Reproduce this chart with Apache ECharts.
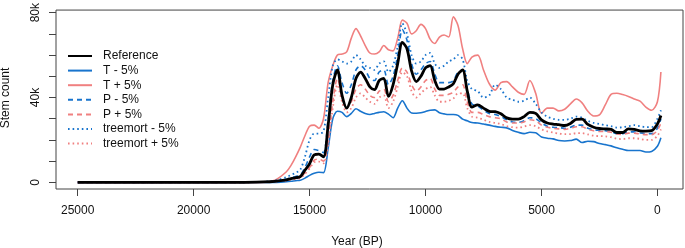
<!DOCTYPE html>
<html>
<head>
<meta charset="utf-8">
<script src="https://cdn.jsdelivr.net/npm/echarts@6/dist/echarts.min.js"></script>
<style>
  html,body{margin:0;padding:0;background:#fff;}
  #chart{width:685px;height:248px;}
</style>
</head>
<body>
<div id="chart"></div>
<script>
// years BP, values in thousands of stems
let years = [25000,22000,19000,18000,17000,16500,16000,
  15800,15600,15400,15200,15000,14800,14600,14400,14200,14000,13800,13600,13400,13200,13000,12800,12600,12400,12200,12000,
  11800,11600,11400,11200,11000,10800,10600,10400,10200,10000,9800,9600,9400,9200,9000,8800,8600,8400,8200,8000,
  7750,7500,7250,7000,6750,6500,6250,6000,5750,5500,5250,5000,4750,4500,4250,4000,3750,3500,3250,3000,
  2750,2500,2250,2000,1750,1500,1250,1000,750,500,250,0,-150];

let reference = [0,0,0,0,0.2,0.5,1.2,
  1.8,2.2,2.7,5.7,8.8,13,13.3,12,27,46,53,41,35,40,49,52,49,45,43.7,48,
  49,40.5,46,56,66,63,52.5,47.5,50,54,55,48,44,44,45,46.5,51,53,43,35.5,
  36.5,35,33.5,33.3,32.3,30.4,29.8,29.8,31,33,32.5,29.5,28,27.5,27.2,26.8,27.8,29.7,29.8,27.3,
  26,25.4,25.2,25,23.5,23.5,25.2,25,24.3,24.2,24.4,27.5,31.5];

let tMinus = [0,0,0,0,0,0,0.3,
  0.5,0.8,1,2,3.3,4.3,4.8,4.6,16,30,33.5,33,31,32.5,34.7,33.5,32.5,32,32.5,33,
  33.3,32.2,30.5,35,38.5,35,32.7,32.6,32.8,33.4,34,34.2,32.8,32.3,32,32,31.6,29.8,29,28.2,
  28,27.5,27,26.4,26,25.7,24.5,23.6,23,23.6,23.4,21.4,20.8,20.5,19.7,19.5,19.7,20.4,18.8,19.4,
  19.2,18.3,17.8,17.2,16.3,15.6,15,15,15,14.3,14.6,17,21];

let tPlus = [0,0,0,0,0,1,5,
  8,12,16.6,22,26.5,27,25.5,30,47,55,60,60.5,61.5,68,72.5,69,64.5,61,60.5,61.5,
  64.5,62.5,62,68,76.5,75,70,71.5,74.5,72.5,67.5,65.5,68.5,69.5,68.5,78,74,63,56,59,
  60,53,46.5,43.5,47,47.5,45,42.5,41.5,48,42,32.5,35,35,33.7,34.5,37,39.3,37.5,33.5,
  31.3,31.8,36.5,41.5,42,41.4,40.5,39.3,38.3,35.5,34,38,52];

let pMinus = [0,0,0,0,0.2,0.5,1.5,
  2.2,2.8,3.5,7,12,15.5,15,14,30,48,55,47,42,46,53,55,53,49,48,52,
  53,46,50,60,72,67,56,51,53,56,57,51,47,47,47,48,52,53,44,37,
  36,34,32.5,32,31,29.5,28.5,28.3,29,30.5,30,28,26.5,26,25.8,25.5,26,27,27,25.5,
  24.8,24.5,24.3,24,23,23,23.8,23.8,23.3,23,23,25.5,30];

let pPlus = [0,0,0,0,0.2,0.4,1,
  1.5,1.9,2.4,4.5,7,10.5,11,10,20,38,49,40,35,38,44,46,44,41,40,43,
  44,38,41,48,54,52,46,43,45,48,49,44,41,41,41.5,42.5,45,46,38,33,
  33,32,31,30.5,30,28.5,28,28,28.5,29.5,29,27,26,25.5,25.2,25,25.5,26.2,26.2,25,
  24.3,24,24,23.6,22.8,22.6,23.2,23.2,22.8,22.5,22.5,24.5,28];

let mortMinus = [0,0,0,0,0.3,0.8,2.5,
  3.5,4.5,6,12,20,23,23,24,40,55,58,57,56,57,60,58,55,54,53,56,
  57,52,55,64,75,70,60,56,57,60,61,56,54,55,57,58,60,58,48,44,
  43,40,41,46,44,40,39,38,38.5,40,37,33,31,30,29.5,29.5,30,31,30.5,29,
  28,27.5,27,26.5,25.8,26,26.5,27,26.5,26,26,30,34];

let mortPlus = [0,0,0,0,0.2,0.4,0.9,
  1.3,1.6,2,4,6.5,9.5,9.8,9,18,35,46,38,33,35,40,42,40,38,37,40,
  41,35,38,45,52,50,43,40,42,44,45,41,38,38,38.5,39.5,42,42,35,31,
  30.5,29.5,28.5,28,27.5,26.5,26,25.8,26.3,27,26.5,25,24,23.5,23,22.7,22.7,23.2,23.2,22.6,
  22,21.8,21.7,21.3,20.6,20.4,20.8,20.8,20.5,20,20,22,25];

let xTicks = [25000,20000,15000,10000,5000,0];
let yTicks = [0,10,20,30,40,50,60,70,80];
let yLabels = [0,40,80];

const BLUE = '#1874CD', RED = '#F08080';
const FONT = 'Liberation Sans, Arial, sans-serif';

function pairs(v){
  return years.map((y,i)=>[y,v[i]]);
}

function line(name,v,color,type,width){
  return {
    name:name,
    type:'line',
    data:pairs(v),
    symbol:'none',
    smooth:0.3,
    lineStyle:{color:color,width:width,type:type},
    itemStyle:{color:color},
    z: name=='Reference' ? 5 : 2
  };
}

let chart = echarts.init(document.getElementById('chart'));
chart.setOption({
  animation:false,
  textStyle:{fontFamily:FONT},
  grid:{left:56,right:2,top:7,bottom:59,show:true,borderColor:'#444',borderWidth:1},
  legend:{
    orient:'vertical',
    left:67,top:49,padding:0,
    itemWidth:24,itemHeight:10,itemGap:0.6,
    itemStyle:{opacity:0},
    textStyle:{fontFamily:FONT,fontSize:12,color:'#111',lineHeight:14,padding:[0,0,0,6]},
    data:['Reference','T - 5%','T + 5%','P - 5%','P + 5%','treemort - 5%','treemort + 5%']
  },
  xAxis:{
    type:'value',inverse:true,min:-1103,max:25935,
    splitLine:{show:false},
    axisLine:{show:false,onZero:false},
    axisTick:{show:true,inside:false,length:7,lineStyle:{color:'#444'},customValues:xTicks},
    axisLabel:{margin:16,fontSize:12,color:'#111',fontFamily:FONT,customValues:xTicks,
      formatter:v=>String(v)}
  },
  yAxis:{
    type:'value',min:-3.124,max:81.23,
    splitLine:{show:false},
    axisLine:{show:false,onZero:false},
    axisTick:{show:true,inside:false,length:7,lineStyle:{color:'#444'},customValues:yTicks},
    axisLabel:{margin:14,fontSize:12,color:'#111',fontFamily:FONT,rotate:90,
      customValues:yLabels,formatter:v=>v==0?'0':v+'k'}
  },
  graphic:[
    {type:'text',x:6,y:98,rotation:Math.PI/2,
      style:{text:'Stem count',font:'12px '+FONT,fill:'#111',align:'center',verticalAlign:'middle'}},
    {type:'text',x:357,y:241.5,
      style:{text:'Year (BP)',font:'12px '+FONT,fill:'#111',align:'center',verticalAlign:'middle'}}
  ],
  series:[
    line('T - 5%',tMinus,BLUE,'solid',1.6),
    line('T + 5%',tPlus,RED,'solid',1.6),
    line('P - 5%',pMinus,BLUE,[5,4],1.6),
    line('P + 5%',pPlus,RED,[5,4],1.6),
    line('treemort - 5%',mortMinus,BLUE,[1.6,3],1.8),
    line('treemort + 5%',mortPlus,RED,[1.6,3],1.8),
    line('Reference',reference,'#000','solid',2.8)
  ]
});
</script>
</body>
</html>
